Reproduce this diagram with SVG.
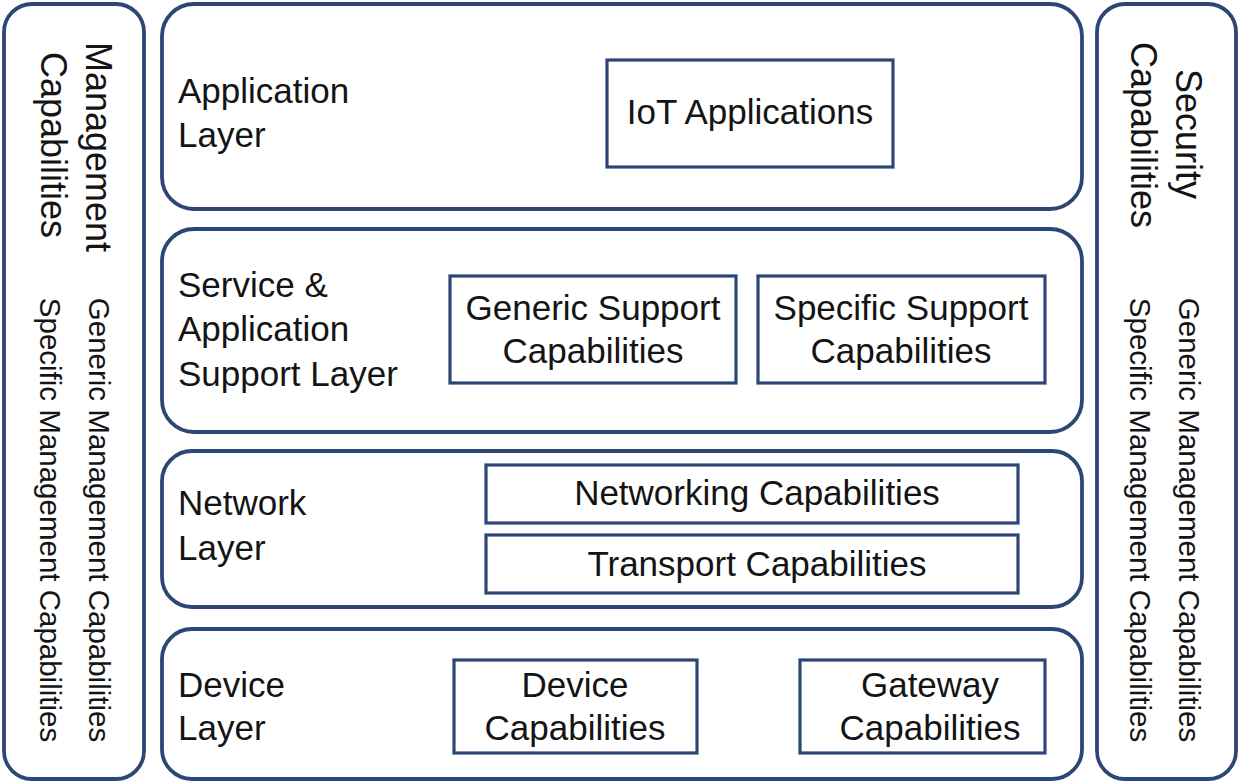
<svg xmlns="http://www.w3.org/2000/svg" width="1240" height="783" viewBox="0 0 1240 783">
<style>
.outer{fill:#fff;stroke:#2e4675;stroke-width:3.8}
.inner{fill:#fff;stroke:#2e4675;stroke-width:3.2}
text{font-family:"Liberation Sans",Arial,sans-serif;fill:#141414}
.lbl{font-size:35px}
.box{font-size:35px;text-anchor:middle}
.side{font-size:36px;text-anchor:middle}
.sub{font-size:29.5px;text-anchor:middle}
</style>
<rect width="1240" height="783" fill="#fff"/>
<g id="management">
<rect class="outer" x="4" y="4" width="140" height="775" rx="28"/>
<text class="side" transform="translate(86,147) rotate(90)">Management</text>
<text class="side" transform="translate(41,145) rotate(90)">Capabilities</text>
<text class="sub" transform="translate(89,520) rotate(90)">Generic Management Capabilities</text>
<text class="sub" transform="translate(40,520) rotate(90)">Specific Management Capabilities</text>
</g>
<g id="security">
<rect class="outer" x="1097" y="4" width="139" height="775" rx="28"/>
<text class="side" transform="translate(1176,134) rotate(90)">Security</text>
<text class="side" transform="translate(1131,135) rotate(90)">Capabilities</text>
<text class="sub" transform="translate(1179,520) rotate(90)">Generic Management Capabilities</text>
<text class="sub" transform="translate(1130,520) rotate(90)">Specific Management Capabilities</text>
</g>
<g id="application-layer">
<rect class="outer" x="162" y="4" width="920" height="205" rx="32"/>
<text class="lbl" x="178" y="103">Application</text>
<text class="lbl" x="178" y="147">Layer</text>
</g>
<g id="iot-applications">
<rect class="inner" x="607" y="60" width="286" height="107"/>
<text class="box" x="750" y="124">IoT Applications</text>
</g>
<g id="service-layer">
<rect class="outer" x="162" y="229" width="920" height="203" rx="32"/>
<text class="lbl" x="178" y="297">Service &amp;</text>
<text class="lbl" x="178" y="341">Application</text>
<text class="lbl" x="178" y="386">Support Layer</text>
</g>
<g id="generic-support">
<rect class="inner" x="450" y="276" width="286" height="107"/>
<text class="box" x="593" y="320">Generic Support</text>
<text class="box" x="593" y="363">Capabilities</text>
</g>
<g id="specific-support">
<rect class="inner" x="758" y="276" width="287" height="107"/>
<text class="box" x="901" y="320">Specific Support</text>
<text class="box" x="901" y="363">Capabilities</text>
</g>
<g id="network-layer">
<rect class="outer" x="162" y="451" width="920" height="156" rx="30"/>
<text class="lbl" x="178" y="515">Network</text>
<text class="lbl" x="178" y="560">Layer</text>
</g>
<g id="networking">
<rect class="inner" x="486" y="465" width="532" height="58"/>
<text class="box" x="757" y="505">Networking Capabilities</text>
</g>
<g id="transport">
<rect class="inner" x="486" y="535" width="532" height="58"/>
<text class="box" x="757" y="576">Transport Capabilities</text>
</g>
<g id="device-layer">
<rect class="outer" x="162" y="629" width="920" height="150" rx="30"/>
<text class="lbl" x="178" y="697">Device</text>
<text class="lbl" x="178" y="740">Layer</text>
</g>
<g id="device-capabilities">
<rect class="inner" x="454" y="660" width="243" height="93"/>
<text class="box" x="575" y="697">Device</text>
<text class="box" x="575" y="740">Capabilities</text>
</g>
<g id="gateway-capabilities">
<rect class="inner" x="800" y="660" width="245" height="93"/>
<text class="box" x="930" y="697">Gateway</text>
<text class="box" x="930" y="740">Capabilities</text>
</g>
<g id="connectors"></g>
</svg>
